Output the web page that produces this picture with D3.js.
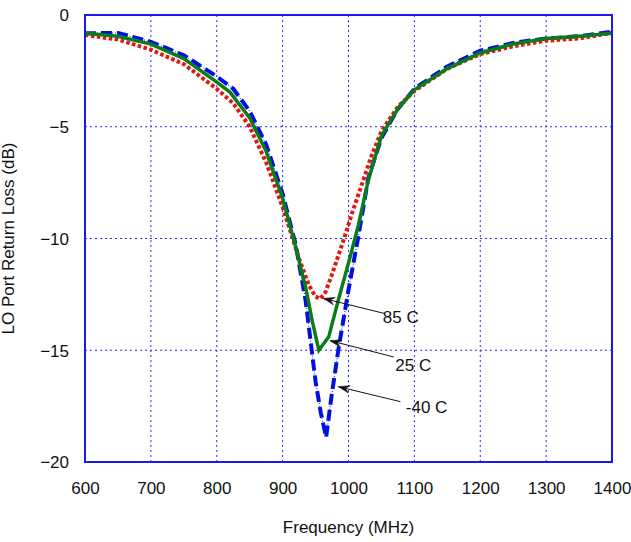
<!DOCTYPE html>
<html>
<head>
<meta charset="utf-8">
<script src="https://cdn.jsdelivr.net/npm/d3@7"></script>
<style>
  html, body { margin: 0; padding: 0; background: #fff; }
  text { font-family: "Liberation Sans", Arial, sans-serif; fill: #111; }
</style>
</head>
<body>
<svg id="chart" width="631" height="542"></svg>
<script>
// ---- data ----
const xTicks = [600, 700, 800, 900, 1000, 1100, 1200, 1300, 1400];
const yTicks = [0, -5, -10, -15, -20];

const freqM40 = [600, 650, 700, 750, 800, 825, 850, 875, 900, 920, 935, 950, 958, 966, 974, 985, 1000, 1015, 1030, 1050, 1075, 1100, 1150, 1200, 1250, 1300, 1350, 1400];
const rlM40   = [-0.82, -0.8, -1.2, -1.8, -2.75, -3.3, -4.3, -5.8, -8.0, -10.3, -12.8, -16.4, -17.8, -18.9, -17.1, -14.9, -12.3, -9.9, -7.3, -5.5, -4.2, -3.3, -2.3, -1.6, -1.25, -1.05, -0.95, -0.75];

const freq85 = [600, 650, 700, 750, 800, 825, 850, 875, 900, 925, 940, 950, 957, 965, 975, 990, 1005, 1020, 1035, 1050, 1075, 1100, 1150, 1200, 1250, 1300, 1350, 1400];
const rl85   = [-0.89, -1.1, -1.55, -2.2, -3.3, -3.95, -5.0, -6.6, -8.6, -10.9, -12.1, -12.6, -12.7, -12.4, -11.6, -10.3, -8.9, -7.6, -6.3, -5.2, -4.1, -3.4, -2.4, -1.75, -1.4, -1.15, -1.05, -0.8];

const freq25 = [600, 650, 700, 750, 800, 820, 850, 875, 900, 920, 935, 945, 955, 970, 985, 1000, 1015, 1030, 1050, 1075, 1100, 1150, 1200, 1250, 1300, 1350, 1400];
const rl25   = [-0.82, -0.95, -1.3, -1.95, -3.0, -3.45, -4.6, -6.1, -8.2, -10.4, -12.2, -13.7, -15.0, -14.4, -12.7, -11.1, -9.4, -7.4, -5.4, -4.2, -3.35, -2.4, -1.7, -1.3, -1.05, -0.95, -0.82];

const labels = ["85 C", "25 C", "-40 C"];
const labelAt = [[1052, -13.77], [1071, -15.91], [1087, -17.79]];
const arrowTail = [[1054, -13.35], [1068.6, -15.3], [1078.8, -17.3]];
const arrowTip = [[961.7, -12.68], [971.9, -14.57], [984.5, -16.63]];

// ---- layout ----
const svg = d3.select("#chart");
const L = 85, R = 612, T = 15, B = 462;
const x = d3.scaleLinear().domain([600, 1400]).range([L, R]);
const y = d3.scaleLinear().domain([-20, 0]).range([B, T]);

// grid
const grid = svg.append("g");
grid.selectAll("line.vx").data(xTicks.slice(1, -1)).join("line")
  .attr("x1", d => x(d)).attr("x2", d => x(d)).attr("y1", T).attr("y2", B)
  .attr("stroke", "#2a2af0").attr("stroke-width", 1).attr("stroke-dasharray", "2,3");
grid.selectAll("line.hy").data(yTicks.slice(1, -1)).join("line")
  .attr("y1", d => y(d)).attr("y2", d => y(d)).attr("x1", L).attr("x2", R)
  .attr("stroke", "#2a2af0").attr("stroke-width", 1).attr("stroke-dasharray", "2,3");

// axes (labels only)
const xAxis = d3.axisBottom(x).tickValues(xTicks).tickSize(0).tickPadding(0).tickFormat(d3.format("d"));
const gx = svg.append("g").attr("transform", `translate(0,${B})`).call(xAxis);
gx.select(".domain").remove();
gx.selectAll("text").attr("y", 32).attr("dy", 0).style("font-size", "17px")
  .style("font-family", '"Liberation Sans", Arial, sans-serif').attr("fill", "#111");

const yAxis = d3.axisLeft(y).tickValues(yTicks).tickSize(0).tickPadding(0).tickFormat(d3.format("d"));
const gy = svg.append("g").attr("transform", `translate(${L},0)`).call(yAxis);
gy.select(".domain").remove();
gy.selectAll("text").attr("x", -16).attr("dy", "0.35em").style("font-size", "17px")
  .style("font-family", '"Liberation Sans", Arial, sans-serif').attr("fill", "#111");

// axis titles
svg.append("text").attr("x", (L + R) / 2).attr("y", 533).attr("text-anchor", "middle")
  .style("font-size", "17px").text("Frequency (MHz)");
svg.append("text").attr("transform", `translate(14,${(T + B) / 2}) rotate(-90)`)
  .attr("text-anchor", "middle").style("font-size", "17px").text("LO Port Return Loss (dB)");

// series
const line = d3.line().x(d => x(d[0])).y(d => y(d[1]));
const sM40 = d3.zip(freqM40, rlM40), s85 = d3.zip(freq85, rl85), s25 = d3.zip(freq25, rl25);

svg.append("path").datum(sM40).attr("d", line).attr("fill", "none")
  .attr("stroke", "#1010e0").attr("stroke-width", 1).attr("stroke-dasharray", "1,2");
svg.append("path").datum(sM40).attr("d", line).attr("fill", "none")
  .attr("stroke", "#0010e0").attr("stroke-width", 4).attr("stroke-dasharray", "11,5");
svg.append("path").datum(s85).attr("d", line).attr("fill", "none")
  .attr("stroke", "#e8140c").attr("stroke-width", 4).attr("stroke-dasharray", "3.5,2.5");
svg.append("path").datum(s25).attr("d", line).attr("fill", "none")
  .attr("stroke", "#0a7d1a").attr("stroke-width", 3.5).attr("stroke-linejoin", "miter");

// border
svg.append("rect").attr("x", L).attr("y", T).attr("width", R - L).attr("height", B - T)
  .attr("fill", "none").attr("stroke", "#1a1ae6").attr("stroke-width", 2);

// annotations
const ann = svg.append("g");
labels.forEach((lab, i) => {
  const tx = x(labelAt[i][0]), ty = y(labelAt[i][1]);
  const sx = x(arrowTail[i][0]), sy = y(arrowTail[i][1]);
  const ax = x(arrowTip[i][0]), ay = y(arrowTip[i][1]);
  ann.append("line").attr("x1", sx).attr("y1", sy).attr("x2", ax).attr("y2", ay)
    .attr("stroke", "#111").attr("stroke-width", 1);
  const ang = Math.atan2(sy - ay, sx - ax);
  const len = 12, wid = 0.32;
  const p1 = [ax + len * Math.cos(ang + wid), ay + len * Math.sin(ang + wid)];
  const p2 = [ax + len * Math.cos(ang - wid), ay + len * Math.sin(ang - wid)];
  const pm = [ax + len * 0.6 * Math.cos(ang), ay + len * 0.6 * Math.sin(ang)];
  ann.append("path").attr("d", `M${p1}L${ax},${ay}L${p2}L${pm}Z`).attr("fill", "#111")
    .attr("stroke", "#111").attr("stroke-width", 0.6);
  ann.append("text").attr("x", tx).attr("y", ty).style("font-size", "17px").text(lab);
});
</script>
</body>
</html>
